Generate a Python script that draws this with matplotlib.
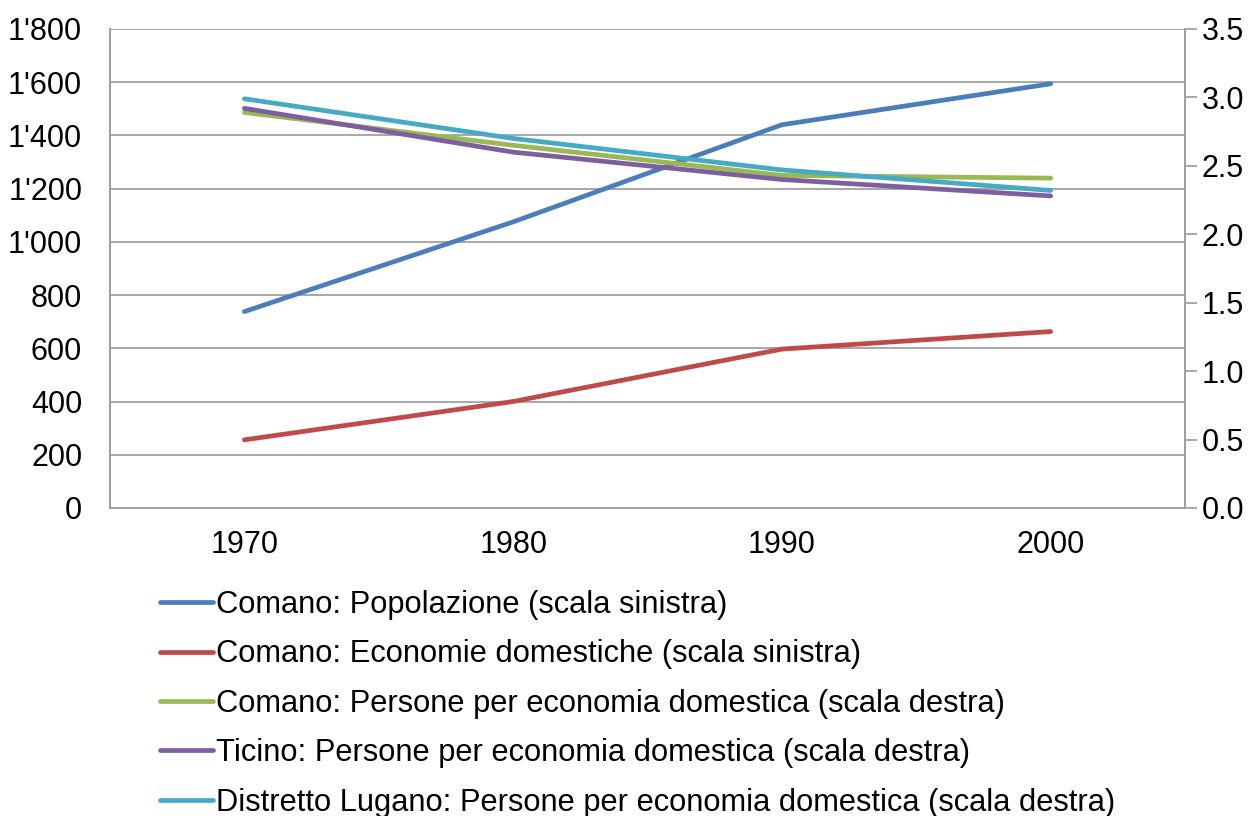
import matplotlib
matplotlib.use("Agg")
import matplotlib.pyplot as plt
from matplotlib.ticker import FuncFormatter

plt.rcParams['font.family'] = ['Liberation Sans', 'DejaVu Sans']

years = ["1970", "1980", "1990", "2000"]
popolazione = [738, 1075, 1440, 1594]
economie = [256, 400, 597, 663]
comano_ppe = [2.89, 2.65, 2.43, 2.41]
ticino_ppe = [2.92, 2.60, 2.40, 2.28]
lugano_ppe = [2.99, 2.70, 2.47, 2.32]

labels = [
    "Comano: Popolazione (scala sinistra)",
    "Comano: Economie domestiche (scala sinistra)",
    "Comano: Persone per economia domestica (scala destra)",
    "Ticino: Persone per economia domestica (scala destra)",
    "Distretto Lugano: Persone per economia domestica (scala destra)",
]
colors = ["#4a7ebb", "#be4b48", "#98b954", "#7d5fa0", "#46aac5"]

fs = 22
fig = plt.figure(figsize=(12.6, 8.16), dpi=100)
ax = fig.add_axes([0.0873, 0.3775, 0.8532, 0.587])
ax2 = ax.twinx()

x = list(range(len(years)))
lw = 3.4
l1, = ax.plot(x, popolazione, color=colors[0], lw=lw, solid_capstyle='round')
l2, = ax.plot(x, economie, color=colors[1], lw=lw, solid_capstyle='round')
l3, = ax2.plot(x, comano_ppe, color=colors[2], lw=lw, solid_capstyle='round')
l4, = ax2.plot(x, ticino_ppe, color=colors[3], lw=lw, solid_capstyle='round')
l5, = ax2.plot(x, lugano_ppe, color=colors[4], lw=lw, solid_capstyle='round')

ax.set_xlim(-0.5, 3.5)
ax.set_ylim(0, 1800)
ax.set_yticks(range(0, 1801, 200))
ax.yaxis.set_major_formatter(FuncFormatter(lambda v, p: f"{int(v):,}".replace(",", "'")))
ax2.set_ylim(0, 3.5)
ax2.set_yticks([i * 0.5 for i in range(8)])
ax2.yaxis.set_major_formatter(FuncFormatter(lambda v, p: f"{v:.1f}"))

ax.set_xticks(x)
ax.set_xticklabels(years)

gc = "#a0a0a0"
ax.grid(axis='y', color=gc, lw=1.3)
ax.set_axisbelow(True)
for a in (ax, ax2):
    for s in a.spines.values():
        s.set_color(gc)
        s.set_linewidth(1.3)
    a.spines['top'].set_visible(False)

ax.tick_params(axis='y', length=0, pad=20, labelsize=fs)
ax.tick_params(axis='x', length=0, pad=16, labelsize=fs)
ax2.tick_params(axis='y', length=8.5, width=1.3, color=gc, pad=3.5, labelsize=fs)
for t in ax.get_yticklabels() + ax.get_xticklabels() + ax2.get_yticklabels():
    t.set_color('black')

fig.legend([l1, l2, l3, l4, l5], labels, loc='upper left',
           bbox_to_anchor=(0.127, 0.277), frameon=False, fontsize=22.2,
           handlelength=1.72, handletextpad=0.1, labelspacing=0.63,
           borderaxespad=0, borderpad=0)

fig.savefig("out.png", dpi=100, facecolor='white')
